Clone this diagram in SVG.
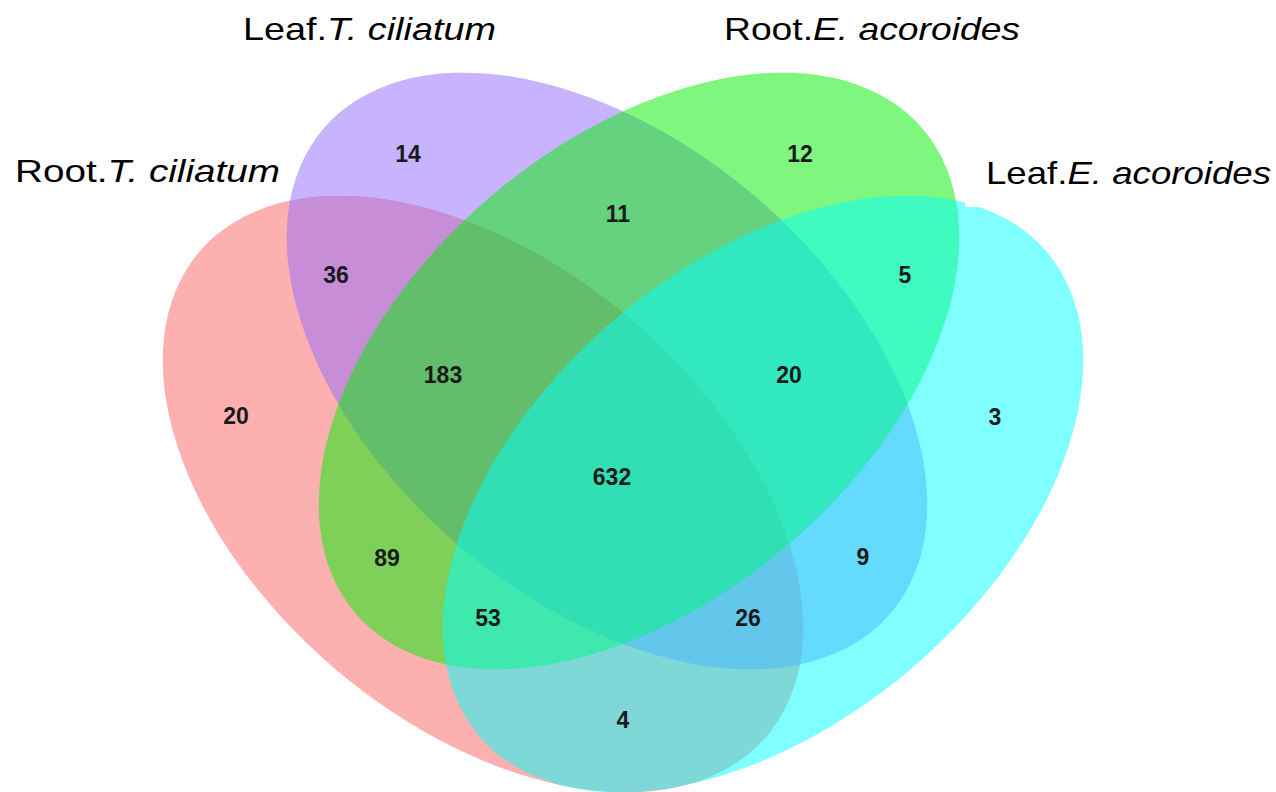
<svg xmlns="http://www.w3.org/2000/svg" width="1276" height="792" viewBox="0 0 1276 792">
<style>
.set{fill-opacity:0.5;stroke:none}
.num{font-family:"Liberation Sans",Arial,sans-serif;font-weight:bold;font-size:23px;fill:#1a1a1a;text-anchor:middle}
.lab{font-family:"Liberation Sans",Arial,sans-serif;font-size:32px;fill:#000}
.it{font-style:italic}
</style>
<rect width="1276" height="792" fill="#fff"/>
<g id="sets">
<g id="root-t-ciliatum"><ellipse class="set" cx="483" cy="494" rx="373" ry="229" fill="#FA6161" transform="rotate(40.5 483 494)"/></g>
<g id="leaf-t-ciliatum"><ellipse class="set" cx="607" cy="371" rx="373" ry="229" fill="#9169FD" transform="rotate(40.5 607 371)"/></g>
<g id="root-e-acoroides"><ellipse class="set" cx="639" cy="371" rx="373" ry="229" fill="#00F000" transform="rotate(-40.5 639 371)"/></g>
<g id="leaf-e-acoroides"><ellipse class="set" cx="763" cy="494" rx="373" ry="229" fill="#00FFFF" transform="rotate(-40.5 763 494)"/></g>
</g>
<rect x="965" y="120" width="311" height="87" fill="#fff"/>
<g id="counts">
<text class="num" x="408" y="162">14</text>
<text class="num" x="800" y="162">12</text>
<text class="num" x="618" y="222">11</text>
<text class="num" x="336" y="283">36</text>
<text class="num" x="905" y="283">5</text>
<text class="num" x="443" y="383">183</text>
<text class="num" x="789" y="383">20</text>
<text class="num" x="236" y="424">20</text>
<text class="num" x="995" y="425">3</text>
<text class="num" x="612" y="485">632</text>
<text class="num" x="387" y="566">89</text>
<text class="num" x="863" y="565">9</text>
<text class="num" x="488" y="626">53</text>
<text class="num" x="748" y="626">26</text>
<text class="num" x="623" y="728">4</text>
</g>
<g id="labels">
<text class="lab" x="243" y="40" textLength="253" lengthAdjust="spacingAndGlyphs">Leaf.<tspan class="it">T. ciliatum</tspan></text>
<text class="lab" x="724" y="40" textLength="296" lengthAdjust="spacingAndGlyphs">Root.<tspan class="it">E. acoroides</tspan></text>
<text class="lab" x="15" y="182" textLength="265" lengthAdjust="spacingAndGlyphs">Root.<tspan class="it">T. ciliatum</tspan></text>
<text class="lab" x="986" y="184" textLength="285" lengthAdjust="spacingAndGlyphs">Leaf.<tspan class="it">E. acoroides</tspan></text>
</g>
</svg>
